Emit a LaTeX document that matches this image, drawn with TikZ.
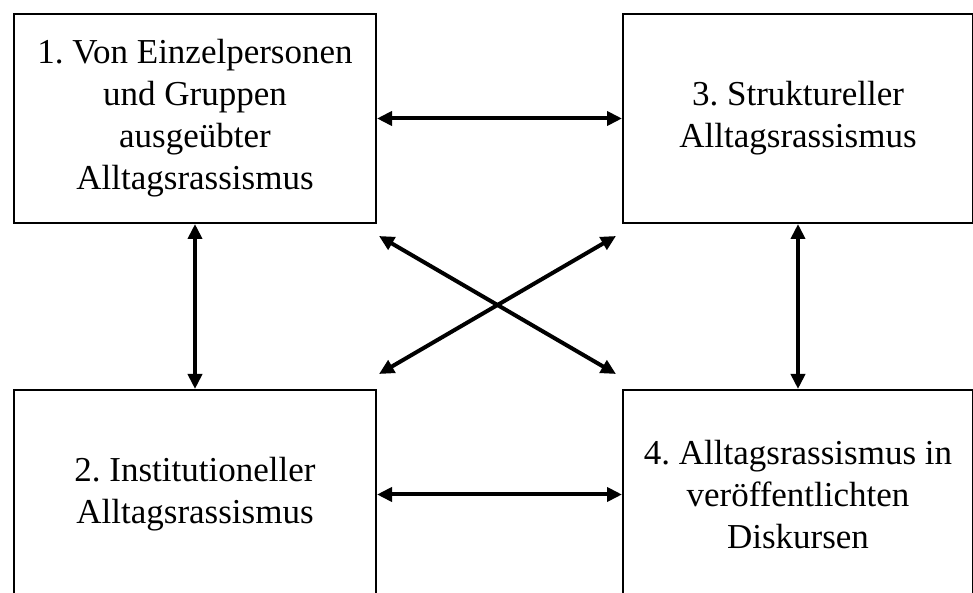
\documentclass[tikz,border=0pt]{standalone}
\usepackage{fontspec}
\setmainfont{Liberation Serif}
\usetikzlibrary{calc,positioning,arrows.meta}
\tikzset{
  line/.style={arrows={Triangle[length=15pt,width=14pt]-Triangle[length=15pt,width=14pt]}, line width=4pt},
  box/.style={draw, line width=2pt, align=center, minimum height=209pt, inner sep=3pt, font=\fontsize{35}{42}\selectfont\frenchspacing},
  leftbox/.style={box, minimum width=362pt},
  rightbox/.style={box, minimum width=350pt}
}

\begin{document}
\begin{tikzpicture}[x=1pt, y=1pt]
  \useasboundingbox (0,0) rectangle (973,593);
  \clip (0,0) rectangle (973,593);
  \node[leftbox] (b1) at (195,474.5) {1. Von Einzelpersonen\\und Gruppen\\ausgeübter\\Alltagsrassismus};
  \node[rightbox, right=245pt of b1] (b3) {3. Struktureller\\Alltagsrassismus};
  \node[leftbox, below=165pt of b1] (b2) {2. Institutioneller\\Alltagsrassismus};
  \node[rightbox, below=165pt of b3] (b4) {4. Alltagsrassismus in\\veröffentlichten\\Diskursen};
  \draw[line] (b1) -- (b3);
  \draw[line] (b2) -- (b4);
  \draw[line] (b1) -- (b2);
  \draw[line] (b3) -- (b4);
  \draw[line] ($(b1.south east)+(2,-12)$) -- ($(b4.north west)+(-6,15)$);
  \draw[line] ($(b3.south west)+(-6,-12)$) -- ($(b2.north east)+(2,15)$);
\end{tikzpicture}
\end{document}
